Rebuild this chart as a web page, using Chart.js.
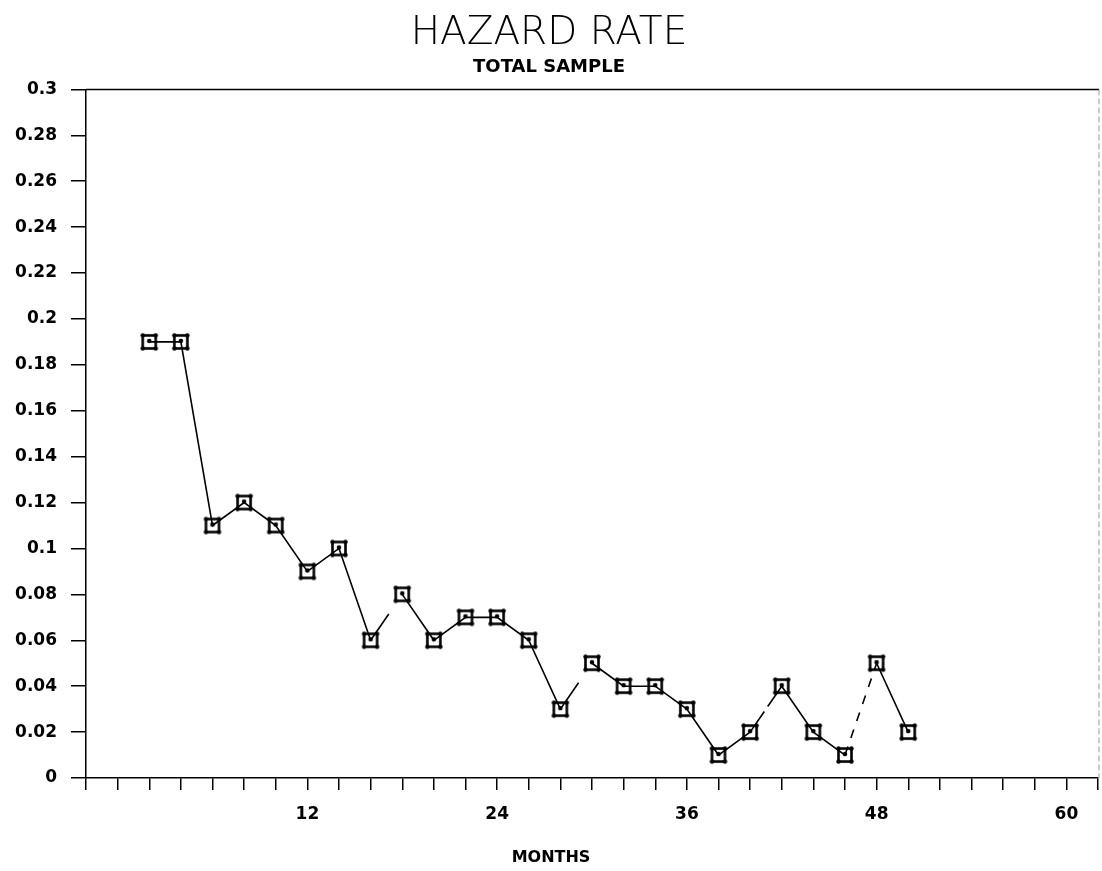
<!DOCTYPE html>
<html>
<head>
<meta charset="utf-8">
<script src="https://cdn.jsdelivr.net/npm/chart.js@4.4.1/dist/chart.umd.min.js"></script>
<style>
  html, body { margin: 0; padding: 0; background: #fff; }
  #wrap { width: 1102px; height: 871px; }
</style>
</head>
<body>
<div id="wrap"><canvas id="c" width="1102" height="871"></canvas></div>
<script>
// Hazard rate by month, total sample
const months = [2, 4, 6, 8, 10, 12, 14, 16, 18, 20, 22, 24, 26, 28, 30, 32, 34, 36, 38, 40, 42, 44, 46, 48, 50];
const hazard = [0.19, 0.19, 0.11, 0.12, 0.11, 0.09, 0.10, 0.06, 0.08, 0.06, 0.07, 0.07, 0.06, 0.03, 0.05,
                0.04, 0.04, 0.03, 0.01, 0.02, 0.04, 0.02, 0.01, 0.05, 0.02];

// Axis ticks
const xTicks = [-2, 0, 2, 4, 6, 8, 10, 12, 14, 16, 18, 20, 22, 24, 26, 28, 30, 32, 34, 36, 38, 40,
                42, 44, 46, 48, 50, 52, 54, 56, 58, 60, 62];
const xTickLabels = [12, 24, 36, 48, 60];
const yTicks = [0, 0.02, 0.04, 0.06, 0.08, 0.1, 0.12, 0.14, 0.16, 0.18, 0.2, 0.22, 0.24, 0.26, 0.28, 0.3];
const xAxisTitle = 'MONTHS';

const INK = '#000';
const TICK_FONT = { family: 'DejaVu Sans', size: 17, weight: 'bold' };

// Plotter-style marker: square outline with heavy corners and a small inner dot
function makeMarker() {
  const c = document.createElement('canvas');
  c.width = 20; c.height = 20;
  const g = c.getContext('2d');
  g.strokeStyle = INK; g.fillStyle = INK;
  g.lineWidth = 2.6;
  g.strokeRect(3.5, 3.5, 13, 13);
  [[3.5, 3.5], [16.5, 3.5], [3.5, 16.5], [16.5, 16.5]].forEach(([x, y]) => {
    g.beginPath(); g.arc(x, y, 2.2, 0, Math.PI * 2); g.fill();
  });
  g.beginPath(); g.arc(10, 9, 2.3, 0, Math.PI * 2); g.fill();
  return c;
}
const marker = makeMarker();

// Dash pattern per connecting segment (pen skips on some rising strokes)
const segmentDash = {
  7: [32, 100],
  13: [32, 100],
  19: [25, 6],
  22: [9, 9]
};

// Top and right frame lines, plus the x-axis caption centred on the page
const framePlugin = {
  id: 'frame',
  beforeDatasetsDraw(chart) {
    const { ctx, chartArea: a } = chart;
    ctx.save();
    ctx.strokeStyle = INK;
    ctx.lineWidth = 1.5;
    ctx.beginPath();
    ctx.moveTo(a.left, a.top);
    ctx.lineTo(a.right + 1, a.top);
    ctx.stroke();
    ctx.strokeStyle = '#9a9a9a';
    ctx.lineWidth = 1;
    ctx.setLineDash([6, 3]);
    ctx.beginPath();
    ctx.moveTo(a.right + 1, a.top);
    ctx.lineTo(a.right + 1, a.bottom);
    ctx.stroke();
    ctx.restore();
  },
  afterDraw(chart) {
    const { ctx, width } = chart;
    ctx.save();
    ctx.fillStyle = INK;
    ctx.font = 'bold 16px "DejaVu Sans"';
    ctx.textAlign = 'center';
    ctx.textBaseline = 'middle';
    ctx.fillText(xAxisTitle, width / 2, 858);
    ctx.restore();
  }
};

new Chart(document.getElementById('c'), {
  type: 'line',
  data: {
    datasets: [{
      data: months.map((m, i) => ({ x: m, y: hazard[i] })),
      borderColor: INK,
      borderWidth: 1.6,
      tension: 0,
      fill: false,
      clip: false,
      pointStyle: marker,
      pointRadius: 9,
      pointHoverRadius: 9,
      segment: {
        borderDash: ctx => segmentDash[ctx.p0DataIndex] || undefined
      }
    }]
  },
  options: {
    responsive: false,
    devicePixelRatio: 1,
    animation: false,
    events: [],
    layout: { autoPadding: false, padding: { left: 0, right: 4, top: 0, bottom: 0 } },
    plugins: {
      legend: { display: false },
      tooltip: { enabled: false },
      title: {
        display: true,
        text: 'HAZARD RATE',
        color: INK,
        font: { family: 'DejaVu Sans', size: 39, weight: 200 },
        padding: { top: 10, bottom: 0 }
      },
      subtitle: {
        display: true,
        text: 'TOTAL SAMPLE',
        color: INK,
        font: { family: 'DejaVu Sans', size: 18, weight: 'bold' },
        padding: { top: 0, bottom: 11 }
      }
    },
    scales: {
      x: {
        type: 'linear',
        min: -2,
        max: 62,
        afterBuildTicks: s => { s.ticks = xTicks.map(v => ({ value: v })); },
        afterFit: s => { s.height = 93; s.paddingRight = 0; s.paddingLeft = 0; },
        ticks: {
          autoSkip: false,
          maxRotation: 0,
          color: INK,
          font: TICK_FONT,
          padding: 14,
          callback: v => (xTickLabels.includes(v) ? String(v) : '')
        },
        grid: { drawOnChartArea: false, tickLength: 12, color: INK, lineWidth: 1.5 },
        border: { color: INK, width: 1.5 }
      },
      y: {
        type: 'linear',
        min: 0,
        max: 0.3,
        afterBuildTicks: s => { s.ticks = yTicks.map(v => ({ value: v })); },
        afterFit: s => { s.width = 86; },
        ticks: {
          autoSkip: false,
          color: INK,
          font: TICK_FONT,
          padding: 14,
          callback: v => String(Number(v.toFixed(2)))
        },
        grid: { drawOnChartArea: false, tickLength: 15, color: INK, lineWidth: 1.5 },
        border: { color: INK, width: 1.5 }
      }
    }
  },
  plugins: [framePlugin]
});
</script>
</body>
</html>
